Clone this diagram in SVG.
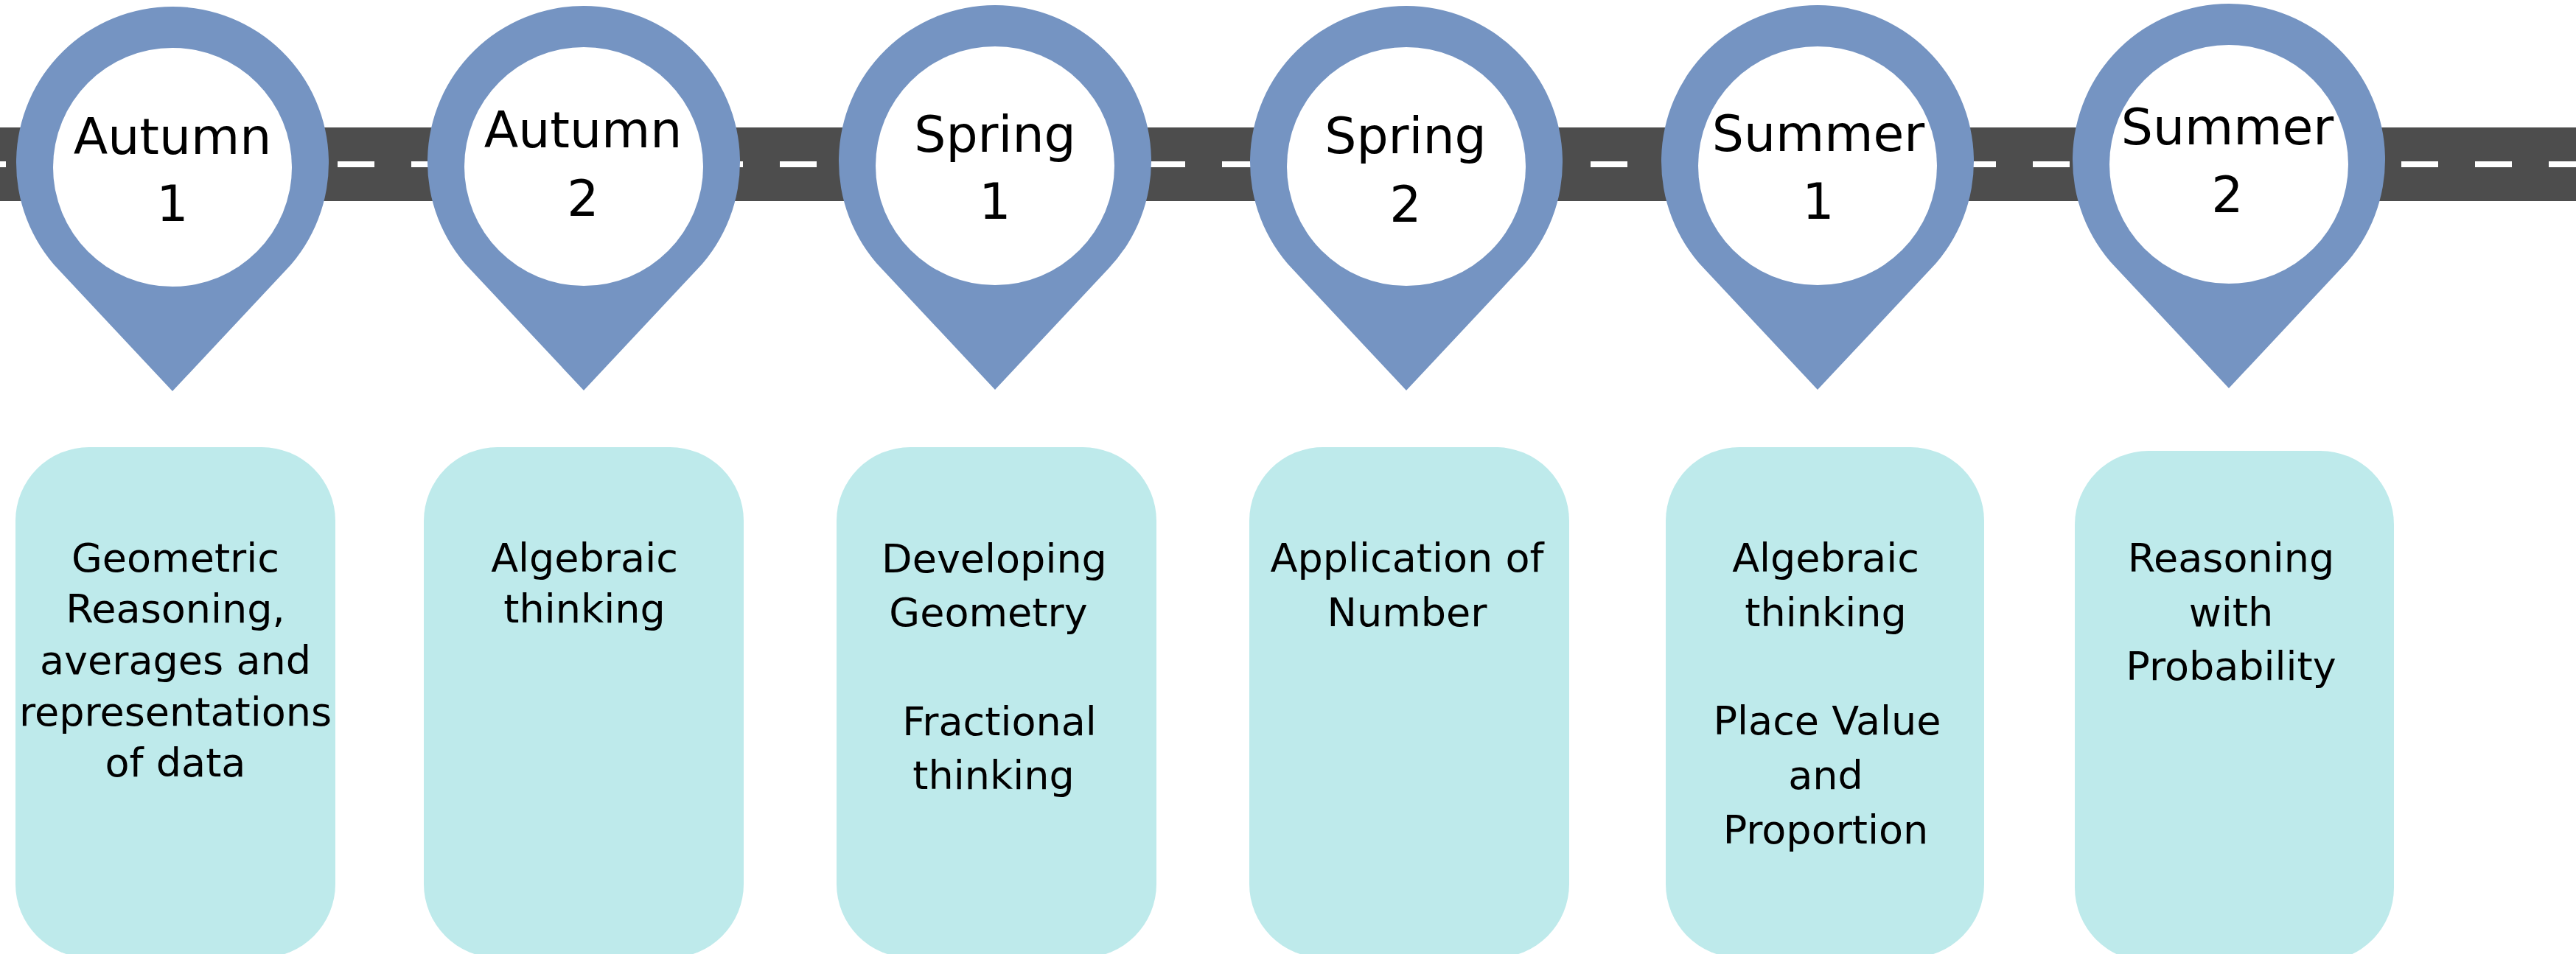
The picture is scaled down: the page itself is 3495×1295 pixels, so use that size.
<svg xmlns="http://www.w3.org/2000/svg" xmlns:xlink="http://www.w3.org/1999/xlink" width="3495" height="1295" viewBox="0 0 3495 1295">
  <style>
    .pin { fill: #7594c2; }
    .hole { fill: #ffffff; }
    .box { fill: #beeaeb; }
    .pt { font-family: "DejaVu Sans", "Noto Sans", sans-serif; font-size: 68px; fill: #000000; text-anchor: middle; }
    .bt { font-family: "DejaVu Sans", "Noto Sans", sans-serif; font-size: 54px; fill: #000000; text-anchor: middle; }
  </style>
  <defs>
    <path id="pinShape" d="M -154.5 145.1 A 212 212 0 1 1 154.5 145.1 L 0 310 Z"/>
  </defs>
  <rect width="3495" height="1295" fill="#ffffff"/>
  <g id="road">
    <rect x="0" y="173" width="3495" height="100" fill="#4d4d4d"/>
    <line x1="-42" y1="223" x2="3495" y2="223" stroke="#ffffff" stroke-width="8" stroke-dasharray="50 50"/>
  </g>
  <g id="connectors"></g>
  <g id="pin-autumn1">
    <use xlink:href="#pinShape" href="#pinShape" x="234" y="221" class="pin"/>
    <circle class="hole" cx="234" cy="227" r="162"/>
    <text class="pt" x="234" y="209">Autumn</text>
    <text class="pt" x="234" y="300">1</text>
  </g>
  <g id="pin-autumn2">
    <use xlink:href="#pinShape" href="#pinShape" x="792" y="220" class="pin"/>
    <circle class="hole" cx="792" cy="226" r="162"/>
    <text class="pt" x="791" y="200">Autumn</text>
    <text class="pt" x="791" y="293">2</text>
  </g>
  <g id="pin-spring1">
    <use xlink:href="#pinShape" href="#pinShape" x="1350" y="219" class="pin"/>
    <circle class="hole" cx="1350" cy="225" r="162"/>
    <text class="pt" x="1350" y="206">Spring</text>
    <text class="pt" x="1350" y="297">1</text>
  </g>
  <g id="pin-spring2">
    <use xlink:href="#pinShape" href="#pinShape" x="1908" y="220" class="pin"/>
    <circle class="hole" cx="1908" cy="226" r="162"/>
    <text class="pt" x="1907" y="208">Spring</text>
    <text class="pt" x="1907" y="301">2</text>
  </g>
  <g id="pin-summer1">
    <use xlink:href="#pinShape" href="#pinShape" x="2466" y="219" class="pin"/>
    <circle class="hole" cx="2466" cy="225" r="162"/>
    <text class="pt" x="2467" y="205">Summer</text>
    <text class="pt" x="2467" y="297">1</text>
  </g>
  <g id="pin-summer2">
    <use xlink:href="#pinShape" href="#pinShape" x="3024" y="217" class="pin"/>
    <circle class="hole" cx="3024" cy="223" r="162"/>
    <text class="pt" x="3022" y="196">Summer</text>
    <text class="pt" x="3022" y="288">2</text>
  </g>
  <g id="box-autumn1">
    <rect class="box" x="21" y="607" width="434" height="693" rx="100" ry="100"/>
    <text class="bt" x="238" y="776">Geometric</text>
    <text class="bt" x="238" y="845">Reasoning,</text>
    <text class="bt" x="238" y="915">averages and</text>
    <text class="bt" x="238" y="985">representations</text>
    <text class="bt" x="238" y="1054">of data</text>
  </g>
  <g id="box-autumn2">
    <rect class="box" x="575" y="607" width="434" height="693" rx="100" ry="100"/>
    <text class="bt" x="793" y="776">Algebraic</text>
    <text class="bt" x="793" y="845">thinking</text>
  </g>
  <g id="box-spring1">
    <rect class="box" x="1135" y="607" width="434" height="693" rx="100" ry="100"/>
    <text class="bt" x="1349" y="777">Developing</text>
    <text class="bt" x="1341" y="850">Geometry</text>
    <text class="bt" x="1356" y="998">Fractional</text>
    <text class="bt" x="1348" y="1071">thinking</text>
  </g>
  <g id="box-spring2">
    <rect class="box" x="1695" y="607" width="434" height="693" rx="100" ry="100"/>
    <text class="bt" x="1909" y="776">Application of</text>
    <text class="bt" x="1909" y="850">Number</text>
  </g>
  <g id="box-summer1">
    <rect class="box" x="2260" y="607" width="432" height="693" rx="100" ry="100"/>
    <text class="bt" x="2477" y="776">Algebraic</text>
    <text class="bt" x="2477" y="850">thinking</text>
    <text class="bt" x="2479" y="997">Place Value</text>
    <text class="bt" x="2477" y="1071">and</text>
    <text class="bt" x="2477" y="1145">Proportion</text>
  </g>
  <g id="box-summer2">
    <rect class="box" x="2815" y="612" width="433" height="693" rx="100" ry="100"/>
    <text class="bt" x="3027" y="776">Reasoning</text>
    <text class="bt" x="3027" y="850">with</text>
    <text class="bt" x="3027" y="923">Probability</text>
  </g>
</svg>
